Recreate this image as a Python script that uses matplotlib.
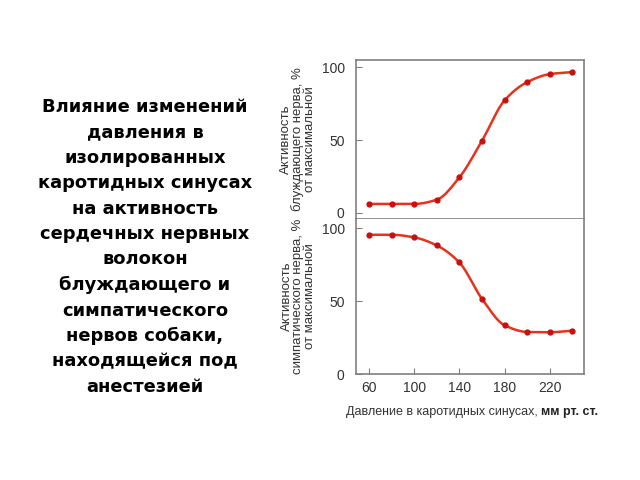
import numpy as np
import matplotlib
matplotlib.use('Agg')
import matplotlib.pyplot as plt

plt.rcParams['font.family'] = ['Liberation Sans', 'DejaVu Sans']

# pressure in carotid sinuses, mm Hg
pressure = [60, 80, 100, 120, 140, 160, 180, 200, 220, 240]
# vagus nerve activity, % of max
vagus = [6.2, 6.2, 6.2, 9.1, 24.4, 49.5, 77.2, 89.7, 95.2, 96.6]
# sympathetic nerve activity, % of max
sympathetic = [95.4, 95.4, 93.6, 88.1, 76.4, 51.5, 33.4, 28.8, 28.6, 29.7]

xticks = [60, 100, 140, 180, 220]
yticks = [0, 50, 100]

title = ('Влияние изменений\nдавления в\nизолированных\nкаротидных синусах\n'
         'на активность\nсердечных нервных\nволокон\nблуждающего и\n'
         'симпатического\nнервов собаки,\nнаходящейся под\nанестезией')


def smooth(x, y, n=20):
    # monotone cubic (pchip-like) curve through the points, for drawing only
    x = np.asarray(x, float)
    y = np.asarray(y, float)
    h = np.diff(x)
    d = np.diff(y) / h
    m = np.zeros_like(y)
    m[0], m[-1] = d[0], d[-1]
    for i in range(1, len(y) - 1):
        if d[i - 1] * d[i] > 0:
            m[i] = 2 / (1 / d[i - 1] + 1 / d[i])
    xs, ys = [], []
    for i in range(len(h)):
        t = np.linspace(0, 1, n, endpoint=False)
        h00 = 2 * t**3 - 3 * t**2 + 1
        h10 = t**3 - 2 * t**2 + t
        h01 = -2 * t**3 + 3 * t**2
        h11 = t**3 - t**2
        xs.append(x[i] + t * h[i])
        ys.append(h00 * y[i] + h10 * h[i] * m[i] + h01 * y[i + 1] + h11 * h[i] * m[i + 1])
    xs.append([x[-1]])
    ys.append([y[-1]])
    return np.concatenate(xs), np.concatenate(ys)


fig = plt.figure(figsize=(6.4, 4.8), dpi=100)
ax1 = fig.add_axes([0.556, 0.5438, 0.356, 0.331])
ax2 = fig.add_axes([0.556, 0.2208, 0.356, 0.323])

line_c = '#e8321c'
dot_c = '#c81010'
spine_c = '#808080'
text_c = '#333333'

for ax, vals, lab in [(ax1, vagus, 'Активность\nблуждающего нерва, %\nот максимальной'),
                      (ax2, sympathetic, 'Активность\nсимпатического нерва, %\nот максимальной')]:
    sx, sy = smooth(pressure, vals)
    ax.plot(sx, sy, color=line_c, lw=1.8, zorder=2)
    ax.plot(pressure, vals, 'o', color=dot_c, ms=3.5, zorder=3)
    ax.set_xlim(48.4, 250)
    ax.set_yticks(yticks)
    ax.tick_params(direction='in', length=4, color=spine_c, labelsize=10, pad=8,
                   labelcolor=text_c)
    for s in ax.spines.values():
        s.set_color(spine_c)
        s.set_linewidth(1.2)
    ax.set_ylabel(lab, fontsize=9.5, labelpad=4, linespacing=0.95, color=text_c)

ax1.set_ylim(-4.1, 104.8)
ax1.set_xticks([])
ax2.set_ylim(0, 106.2)
ax2.set_xticks(xticks)
ax2.spines['top'].set_visible(False)
ax2.tick_params(axis='x', pad=5)

t1 = fig.text(346 / 640, 1 - 412 / 480, 'Давление в каротидных синусах, ',
              fontsize=9, va='center', ha='left', color=text_c)
ax2.annotate('мм рт. ст.', xy=(1, 0.5), xycoords=t1, va='center', ha='left',
             fontsize=9, fontweight='bold', color='#222222')

fig.text(145 / 640, 1 - 247 / 480, title, fontsize=12.9, fontweight='bold',
         family=['DejaVu Sans'], ha='center', va='center', linespacing=1.53)

fig.savefig('out.png', dpi=100, facecolor='white')
